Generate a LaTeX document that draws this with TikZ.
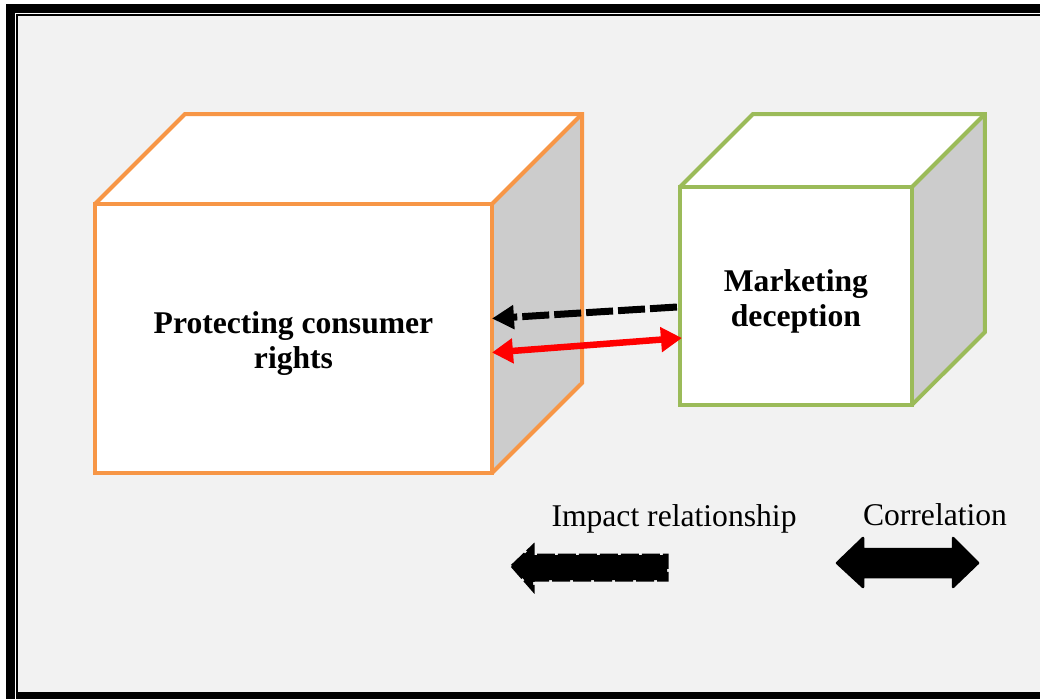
\documentclass[tikz,border=0pt]{standalone}
\usepackage{fontspec}
\setmainfont{Liberation Serif}
\usepackage{xcolor}
\usetikzlibrary{arrows.meta, positioning, calc}

\definecolor{cubeOrange}{HTML}{F79646}
\definecolor{cubeGreen}{HTML}{9BBB59}
\definecolor{sideGray}{HTML}{CCCCCC}
\definecolor{pageGray}{HTML}{F2F2F2}

\begin{document}
\begin{tikzpicture}[
    x=0.02cm, y=-0.02cm,
    frontFace/.style={
        rectangle,
        fill=white,
        line width=0.08cm,
        outer sep=0pt,
        inner sep=0pt
    },
    faceText/.style={
        align=center,
        yshift=-0.1cm,
        font=\fontsize{18}{20}\selectfont\bfseries
    },
    cubeEdge/.style={
        line width=0.08cm
    },
    legendText/.style={
        font=\fontsize{18}{20}\selectfont
    },
    impactArrow/.style={
        line width=0.14cm,
        dash pattern=on 0.54cm off 0.1cm,
        -{Triangle[length=0.44cm, width=0.46cm]}
    },
    corrArrow/.style={
        red,
        line width=0.13cm,
        {Triangle[length=0.42cm, width=0.48cm]}-{Triangle[length=0.42cm, width=0.48cm]}
    }
]

% Page frame
\useasboundingbox (0,0) rectangle (1040,699);
\fill[white] (0,0) rectangle (1040,699);
\fill[pageGray] (17.7,16) rectangle (1040,692);
\fill[black] (6,4) rectangle (15,699);
\fill[black] (6,4) rectangle (1040,12.7);
\fill[black] (16,13.7) rectangle (17.7,699);
\fill[black] (16,13.7) rectangle (1040,16);
\fill[black] (16,692) rectangle (1040,699);

% Cube 1
\node[frontFace, minimum width=7.94cm, minimum height=5.38cm,
      label={[faceText]center:Protecting consumer\\rights}] (rights) at (293.5,338.5) {};
\fill[white] (rights.north west) -- ++(90,-90) -- ++(397,0) -- (rights.north east) -- cycle;
\fill[sideGray] (rights.north east) -- ++(90,-90) -- ++(0,269) -- (rights.south east) -- cycle;
\draw[cubeEdge, cubeOrange] (rights.north west) rectangle (rights.south east);
\draw[cubeEdge, cubeOrange] (rights.north west) -- ++(90,-90) -- ++(397,0) -- ++(0,269) -- (rights.south east);
\draw[cubeEdge, cubeOrange] (rights.north east) -- ++(90,-90);

% Cube 2
\node[frontFace, minimum width=4.64cm, minimum height=4.36cm,
      right=3.76cm of rights, yshift=0.85cm,
      label={[faceText]center:Marketing\\deception}] (deception) {};
\fill[white] (deception.north west) -- ++(73,-73) -- ++(232,0) -- (deception.north east) -- cycle;
\fill[sideGray] (deception.north east) -- ++(73,-73) -- ++(0,218) -- (deception.south east) -- cycle;
\draw[cubeEdge, cubeGreen] (deception.north west) rectangle (deception.south east);
\draw[cubeEdge, cubeGreen] (deception.north west) -- ++(73,-73) -- ++(232,0) -- ++(0,218) -- (deception.south east);
\draw[cubeEdge, cubeGreen] (deception.north east) -- ++(73,-73);

% Links
\draw[impactArrow] ($(deception.west)+(-3,11)$) -- ($(rights.east)+(0,-20)$);
\draw[corrArrow] ($(rights.east)+(0,14)$) -- ($(deception.west)+(2,42)$);

% Legend
\node[legendText] (impactLabel) at (674,519) {Impact relationship};
\node[legendText] (corrLabel) at (935,515) {Correlation};

\filldraw[fill=black, draw=black, line width=0.06cm, dash pattern=on 0.36cm off 0.06cm]
    (512,566) -- (533,546) -- (533,555) -- (667,555) -- (667,580) -- (533,580) -- (533,590) -- cycle;
\filldraw[fill=black, draw=black, line width=0.05cm, line join=round]
    (837,563) -- (863,538) -- (863,549) -- (953,549) -- (953,538) -- (978,563)
    -- (953,587) -- (953,577) -- (863,577) -- (863,587) -- cycle;

\end{tikzpicture}
\end{document}
